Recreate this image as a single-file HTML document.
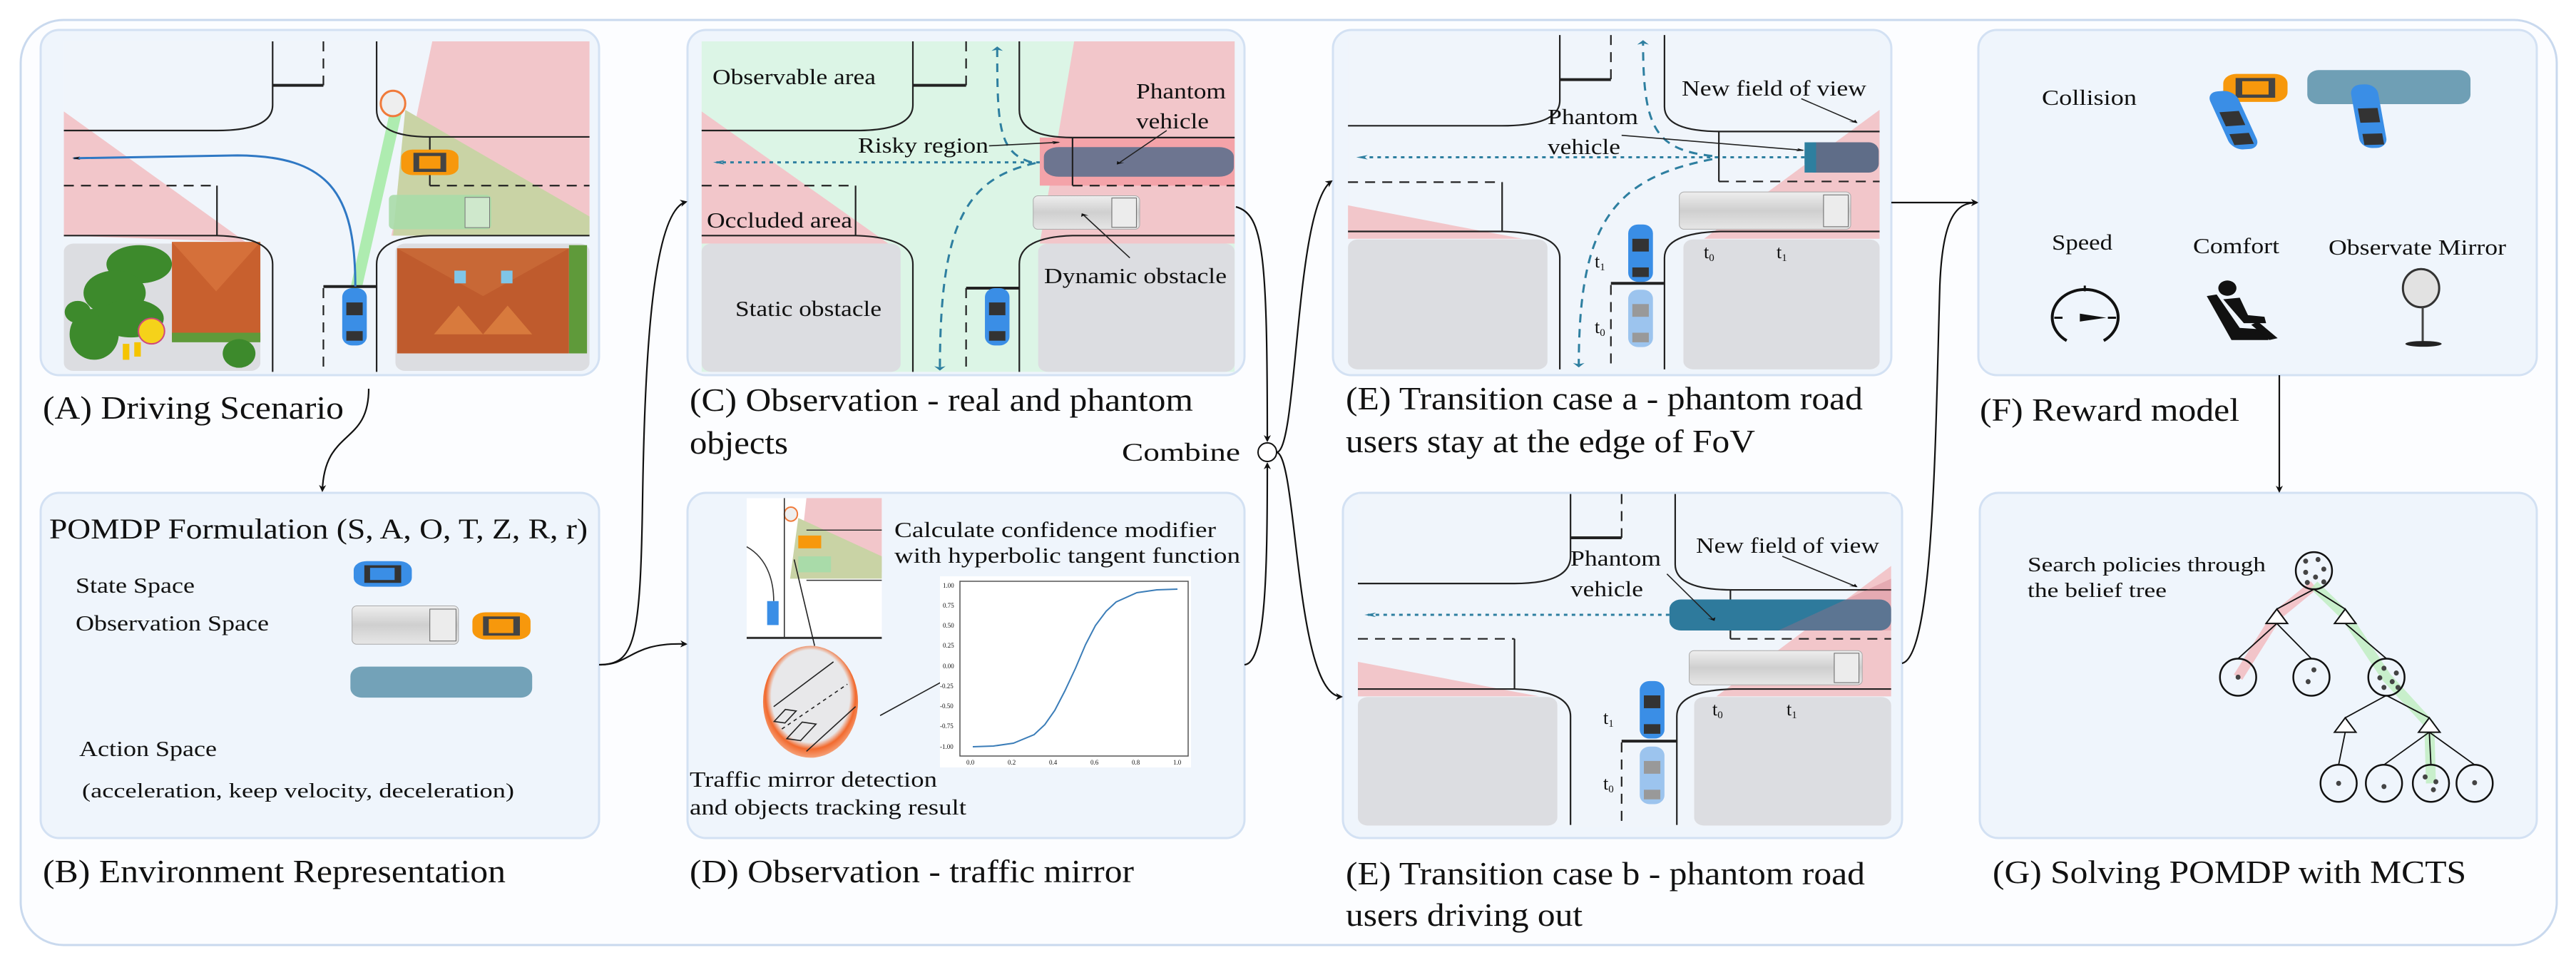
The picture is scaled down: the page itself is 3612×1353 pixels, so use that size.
<!DOCTYPE html>
<html><head><meta charset="utf-8"><style>
html,body{margin:0;padding:0;background:#fff;}
svg{display:block;}
svg *{vector-effect:non-scaling-stroke;}
text{font-family:"Liberation Serif",serif;fill:#111;}
</style></head><body>
<svg width="3612" height="1353" viewBox="0 0 3612 1353" xmlns="http://www.w3.org/2000/svg">
<defs>
<marker id="ah" markerWidth="10" markerHeight="10" refX="8" refY="5" orient="auto" markerUnits="userSpaceOnUse" viewBox="0 0 10 10">
<path d="M0,0 L10,5 L0,10 L3,5 z" fill="#111"/></marker>
<marker id="th" markerWidth="14" markerHeight="14" refX="10" refY="7" orient="auto" markerUnits="userSpaceOnUse" viewBox="0 0 14 14">
<path d="M0,0 L14,7 L0,14 L4,7 z" fill="#2e7fa0"/></marker>
<radialGradient id="mir" cx="0.5" cy="0.45" r="0.55"><stop offset="0.75" stop-color="#e8e8ea"/><stop offset="0.86" stop-color="#f26a2e"/><stop offset="1" stop-color="#f5a27a"/></radialGradient>
<linearGradient id="trk" x1="0" y1="0" x2="0" y2="1"><stop offset="0" stop-color="#eeeeee"/><stop offset="0.5" stop-color="#cfcfcf"/><stop offset="1" stop-color="#e6e6e6"/></linearGradient>
</defs>
<rect x="0" y="0" width="3612" height="1353" fill="#fff"/>
<rect x="29" y="28" width="3556" height="1297" rx="60" fill="#fcfdff" stroke="#c9d9ee" stroke-width="3"/>

<g fill="#eff5fc" stroke="#d3e1f3" stroke-width="3">
<rect x="57" y="42" width="783" height="484" rx="26"/>
<rect x="964" y="42" width="781" height="484" rx="26"/>
<rect x="57" y="691" width="783" height="484" rx="26"/>
<rect x="964" y="691" width="781" height="484" rx="26"/>
<rect x="1869" y="42" width="783" height="484" rx="26"/>
<rect x="2774" y="42" width="783" height="484" rx="26"/>
<rect x="1883" y="691" width="784" height="484" rx="26"/>
<rect x="2776" y="691" width="781" height="484" rx="26"/>
</g>

<g transform="scale(1.148,0.4464)">
 <rect x="78" y="130" width="642" height="1038" fill="#f0f5fb"/>
 <polygon points="528,130 720,130 720,740 478,740" fill="#f2c6ca"/>
 <polygon points="495,345 720,680 720,740 480,740" fill="#c9d3a5"/>
 <polygon points="78,350 78,740 300,760 " fill="#f2c6ca"/>
 <polygon points="478,330 492,340 442,905 428,905" fill="#9eea9e" opacity="0.8"/>
 <rect x="78" y="765" width="240" height="400" rx="12" ry="25" fill="#dcdde1"/>
 <rect x="483" y="765" width="237" height="400" rx="12" ry="25" fill="#dcdde1"/>
 <rect x="210" y="760" width="108" height="310" fill="#c8602e"/>
 <polygon points="210,760 318,760 264,915" fill="#d5703a"/>
 <rect x="210" y="1045" width="108" height="30" fill="#5f9a3a"/>
 <rect x="485" y="780" width="210" height="330" fill="#bf5b2d"/>
 <polygon points="485,780 695,780 590,930" fill="#c86836"/>
 <polygon points="530,1050 560,960 590,1050" fill="#d87a3d"/>
 <polygon points="590,1050 620,960 650,1050" fill="#d87a3d"/>
 <rect x="555" y="850" width="14" height="40" fill="#7fc6e8"/><rect x="612" y="850" width="14" height="40" fill="#7fc6e8"/>
 <rect x="695" y="770" width="22" height="340" fill="#5f9a3a"/>
 <g fill="#3d8a2c"><ellipse cx="170" cy="830" rx="40" ry="60"/><ellipse cx="140" cy="920" rx="38" ry="70"/><ellipse cx="115" cy="1050" rx="30" ry="80"/><ellipse cx="95" cy="980" rx="16" ry="35"/><ellipse cx="292" cy="1110" rx="20" ry="45"/><ellipse cx="160" cy="1000" rx="40" ry="60"/></g>
 <ellipse cx="185" cy="1040" rx="16" ry="40" fill="#f5d21a" stroke="#d04a7a" stroke-width="2"/>
 <rect x="150" y="1080" width="8" height="50" fill="#f5c400"/><rect x="164" y="1075" width="8" height="45" fill="#f5c400"/>
 <g fill="none" stroke="#222" stroke-width="2.2">
  <path d="M333,130 V330 Q333,410 265,410 H78"/>
  <path d="M460,130 V345 Q460,430 525,430 H720"/>
  <path d="M78,740 H265 Q333,745 333,830 V1168"/>
  <path d="M720,740 H525 Q460,745 460,830 V1168"/>
  <path d="M525,430 V583"/><path d="M265,583 V740"/>
 </g>
 <g stroke="#222" stroke-width="4"><line x1="333" y1="268" x2="395" y2="268"/><line x1="395" y1="900" x2="460" y2="900"/></g>
 <g fill="none" stroke="#222" stroke-width="2.2" stroke-dasharray="14 10">
  <path d="M395,130 V268"/><path d="M395,905 V1168"/><path d="M78,583 H265"/><path d="M525,583 H720"/>
 </g>
 <path d="M434,900 C434,600 400,490 290,488 L90,497" fill="none" stroke="#2f78c4" stroke-width="3" marker-end="url(#ah)"/>
 <ellipse cx="480" cy="325" rx="15" ry="40" fill="#eee" stroke="#f07a3a" stroke-width="3"/>
 <rect x="490" y="470" width="70" height="80" rx="14" ry="25" fill="#f7980c"/><rect x="505" y="480" width="40" height="60" fill="#444"/><rect x="512" y="490" width="26" height="40" fill="#f7980c"/>
 <rect x="475" y="612" width="125" height="108" rx="6" ry="14" fill="#a9dba9" opacity="0.9"/><rect x="568" y="620" width="30" height="95" fill="#cfe8cc" stroke="#777"/>
 <rect x="418" y="905" width="30" height="180" rx="12" ry="28" fill="#3a8ee6"/><rect x="423" y="950" width="20" height="40" fill="#333"/><rect x="423" y="1040" width="20" height="30" fill="#333"/>

 <rect x="857" y="130" width="651" height="1038" fill="#dcf5e6"/>
 <polygon points="857,350 857,765 1085,765" fill="#f2c6ca"/>
 <polygon points="1312,130 1508,130 1508,765 1270,765" fill="#f2c6ca"/>
 <rect x="1270" y="432" width="238" height="151" fill="#f4a3a9"/>
 <rect x="1275" y="462" width="232" height="93" rx="18" ry="30" fill="#6d7590"/>
 <rect x="857" y="765" width="243" height="403" rx="12" ry="25" fill="#dcdde1"/>
 <rect x="1268" y="765" width="240" height="403" rx="12" ry="25" fill="#dcdde1"/>
 <g fill="none" stroke="#222" stroke-width="2.2">
  <path d="M1115,130 V330 Q1115,410 1045,410 H857"/>
  <path d="M1245,130 V345 Q1245,432 1310,432 H1508"/>
  <path d="M857,740 H1045 Q1115,745 1115,830 V1168"/>
  <path d="M1508,740 H1310 Q1245,745 1245,830 V1168"/>
  <path d="M1310,432 V583"/><path d="M1045,583 V740"/>
 </g>
 <g stroke="#222" stroke-width="4"><line x1="1115" y1="268" x2="1180" y2="268"/><line x1="1180" y1="905" x2="1245" y2="905"/></g>
 <g fill="none" stroke="#222" stroke-width="2.2" stroke-dasharray="14 10">
  <path d="M1180,130 V268"/><path d="M1180,905 V1168"/><path d="M857,583 H1045"/><path d="M1310,583 H1508"/>
 </g>
 <g fill="none" stroke="#2e7fa0" stroke-width="3">
  <path d="M1270,510 H875" stroke-dasharray="5 6" marker-end="url(#th)"/>
  <path d="M1260,510 C1220,480 1218,400 1218,150" stroke-dasharray="12 9" marker-end="url(#th)"/>
  <path d="M1265,512 C1180,560 1148,700 1148,1160" stroke-dasharray="12 9" marker-end="url(#th)"/>
 </g>
 <rect x="1262" y="615" width="130" height="105" rx="6" ry="14" fill="url(#trk)" stroke="#aaa"/><rect x="1358" y="622" width="30" height="92" fill="#ececec" stroke="#666"/>
 <rect x="1203" y="905" width="30" height="180" rx="12" ry="28" fill="#3a8ee6"/><rect x="1208" y="950" width="20" height="40" fill="#333"/><rect x="1208" y="1040" width="20" height="30" fill="#333"/>
 <g stroke="#222" stroke-width="1.6" fill="none">
  <path d="M1208,458 L1293,447" marker-end="url(#ah)"/>
  <path d="M1425,410 L1365,515" marker-end="url(#ah)"/>
  <path d="M1380,810 L1322,672" marker-end="url(#ah)"/>
 </g>
</g>

<g transform="translate(0,650) scale(1.148,0.4483)">
 <rect x="432" y="305" width="71" height="80" rx="16" ry="28" fill="#3a8ee6"/><rect x="445" y="318" width="45" height="55" fill="#333"/><rect x="452" y="326" width="30" height="38" fill="#3a8ee6"/>
 <rect x="430" y="445" width="130" height="120" rx="6" ry="14" fill="url(#trk)" stroke="#aaa"/><rect x="525" y="455" width="32" height="100" fill="#ececec" stroke="#666"/>
 <rect x="577" y="465" width="71" height="85" rx="16" ry="28" fill="#f7980c"/><rect x="590" y="478" width="45" height="60" fill="#444"/><rect x="597" y="486" width="30" height="44" fill="#f7980c"/>
 <rect x="428" y="635" width="222" height="97" rx="14" ry="30" fill="#73a2b8"/>
 <rect x="912" y="108" width="165" height="440" fill="#fff"/>
 <polygon points="985,108 1077,108 1077,340 975,340" fill="#f2c6ca"/>
 <polygon points="975,170 1077,290 1077,360 965,360" fill="#c9d3a5"/>
 <rect x="975" y="290" width="40" height="50" fill="#a9dba9"/>
 <rect x="975" y="225" width="28" height="40" fill="#f7980c"/>
 <ellipse cx="966" cy="158" rx="8" ry="22" fill="#eee" stroke="#f07a3a" stroke-width="2"/>
 <g fill="none" stroke="#333" stroke-width="1.6"><path d="M958,108 V545"/><path d="M985,208 H1077"/><path d="M985,365 H1077"/><path d="M912,545 H1077" stroke-width="3"/><path d="M912,260 C940,300 945,380 945,430"/></g>
 <rect x="937" y="430" width="14" height="75" fill="#3a8ee6"/>
 <ellipse cx="990" cy="745" rx="58" ry="175" fill="url(#mir)"/>
 <g fill="none" stroke="#222" stroke-width="1.6"><path d="M945,760 L1018,620"/><path d="M985,900 L1045,760"/><path d="M955,830 L1035,690" stroke-dasharray="5 5"/><rect x="952" y="770" width="14" height="40" transform="rotate(20 959 790)"/><rect x="970" y="810" width="18" height="55" transform="rotate(20 979 837)"/></g>
 <path d="M970,300 L995,570" stroke="#222" stroke-width="1.6" fill="none"/>
 <path d="M1075,788 L1170,655" stroke="#222" stroke-width="1.6" fill="none" marker-end="url(#ah)"/>
</g>
<rect x="1318" y="808" width="352" height="268" fill="#fff"/>
<rect x="1346" y="815" width="320" height="245" fill="none" stroke="#555" stroke-width="1.5"/>
<polyline fill="none" stroke="#3b7db8" stroke-width="2" points="1364,1047 1393,1046 1421,1042 1450,1030 1465,1016 1479,996 1493,969 1508,937 1522,904 1536,877 1551,857 1565,844 1594,831 1622,827 1651,826"/>
<g font-size="9" fill="#333">
<text x="1322" y="824">1.00</text><text x="1322" y="852">0.75</text><text x="1322" y="880">0.50</text><text x="1322" y="908">0.25</text><text x="1322" y="937">0.00</text><text x="1318" y="965">-0.25</text><text x="1318" y="993">-0.50</text><text x="1318" y="1021">-0.75</text><text x="1318" y="1050">-1.00</text>
<text x="1355" y="1072">0.0</text><text x="1413" y="1072">0.2</text><text x="1471" y="1072">0.4</text><text x="1529" y="1072">0.6</text><text x="1587" y="1072">0.8</text><text x="1645" y="1072">1.0</text>
</g>

<g transform="translate(1800,0) scale(1.1556,0.4464)">
 <rect x="78" y="110" width="645" height="1050" fill="#f0f5fb"/>
 <polygon points="78,645 78,750 290,750" fill="#f2c6ca"/>
 <polygon points="723,345 723,750 510,750" fill="#f2c6ca"/>
 <rect x="78" y="752" width="242" height="408" rx="12" ry="25" fill="#dcdde1"/>
 <rect x="485" y="752" width="238" height="408" rx="12" ry="25" fill="#dcdde1"/>
 <g fill="none" stroke="#222" stroke-width="2.2">
  <path d="M335,110 V315 Q335,395 265,395 H78"/>
  <path d="M462,110 V335 Q462,413 530,413 H723"/>
  <path d="M78,727 H265 Q335,732 335,810 V1160"/>
  <path d="M723,727 H530 Q462,732 462,810 V1160"/>
  <path d="M528,413 V570"/><path d="M265,572 V727"/>
 </g>
 <g stroke="#222" stroke-width="4"><line x1="335" y1="250" x2="397" y2="250"/><line x1="397" y1="890" x2="462" y2="890"/></g>
 <g fill="none" stroke="#222" stroke-width="2.2" stroke-dasharray="14 10">
  <path d="M397,110 V250"/><path d="M397,895 V1160"/><path d="M78,572 H265"/><path d="M528,570 H723"/>
 </g>
 <rect x="632" y="447" width="90" height="95" rx="12" ry="28" fill="#5f6d88"/>
 <rect x="632" y="447" width="14" height="95" fill="#2e7f9f"/>
 <g fill="none" stroke="#2e7fa0" stroke-width="3">
  <path d="M632,494 H92" stroke-dasharray="5 6" marker-end="url(#th)"/>
  <path d="M520,490 C450,470 436,400 436,130" stroke-dasharray="12 9" marker-end="url(#th)"/>
  <path d="M520,500 C400,560 358,700 358,1150" stroke-dasharray="12 9" marker-end="url(#th)"/>
 </g>
 <rect x="480" y="603" width="208" height="117" rx="6" ry="14" fill="url(#trk)" stroke="#aaa"/><rect x="655" y="612" width="30" height="100" fill="#ececec" stroke="#666"/>
 <rect x="418" y="705" width="30" height="180" rx="12" ry="28" fill="#3a8ee6"/><rect x="423" y="750" width="20" height="40" fill="#333"/><rect x="423" y="840" width="20" height="30" fill="#333"/>
 <rect x="418" y="910" width="30" height="180" rx="12" ry="28" fill="#9cc4ee"/><rect x="423" y="955" width="20" height="40" fill="#999"/><rect x="423" y="1045" width="20" height="30" fill="#999"/>
 <g stroke="#222" stroke-width="1.6" fill="none">
  <path d="M628,310 L695,385" marker-end="url(#ah)"/>
  <path d="M410,425 L630,472" marker-end="url(#ah)"/>
 </g>
 <rect x="1140" y="232" width="78" height="88" rx="16" ry="30" fill="#f7980c"/><rect x="1155" y="245" width="48" height="62" fill="#444"/><rect x="1163" y="255" width="32" height="42" fill="#f7980c"/>
 <rect x="1135" y="285" width="35" height="185" rx="14" ry="30" fill="#3a8ee6" transform="rotate(-10 1152 378)"/>
 <rect x="1242" y="220" width="198" height="107" rx="14" ry="30" fill="#6f9fb5"/>
 <rect x="1300" y="265" width="33" height="200" rx="14" ry="30" fill="#3a8ee6" transform="rotate(-4 1316 365)"/>
 <rect x="1305" y="340" width="24" height="45" fill="#333" transform="rotate(-4 1316 365)"/><rect x="1305" y="420" width="24" height="35" fill="#333" transform="rotate(-4 1316 365)"/>
 <rect x="1140" y="350" width="24" height="45" fill="#333" transform="rotate(-10 1152 378)"/><rect x="1140" y="420" width="24" height="35" fill="#333" transform="rotate(-10 1152 378)"/>
 <path d="M950,1070 A40,88 0 1 1 995,1070" fill="none" stroke="#111" stroke-width="4"/>
 <polygon points="966,985 998,998 966,1010" fill="#111"/>
 <g stroke="#111" stroke-width="3"><line x1="972" y1="897" x2="972" y2="915"/><line x1="935" y1="998" x2="945" y2="998"/><line x1="1000" y1="998" x2="1010" y2="998"/></g>
 <ellipse cx="1145" cy="905" rx="11" ry="24" fill="#111"/>
 <path d="M1120,930 L1132,925 L1160,1030 L1190,1035 L1195,1068 L1150,1068 z" fill="#111"/>
 <path d="M1140,940 L1160,935 L1170,990 L1190,995 L1192,1015 L1165,1015 z" fill="#111"/>
 <path d="M1182,1010 L1206,1062 L1196,1068 L1174,1020 z" fill="#111"/>
 <ellipse cx="1380" cy="905" rx="22" ry="60" fill="#e2e2e2" stroke="#333" stroke-width="3"/>
 <line x1="1382" y1="965" x2="1382" y2="1078" stroke="#444" stroke-width="3"/>
 <ellipse cx="1383" cy="1080" rx="22" ry="9" fill="#222"/>
</g>

<g transform="translate(1800,650) scale(1.1556,0.4483)">
 <rect x="90" y="95" width="647" height="1040" fill="#f0f5fb"/>
 <polygon points="90,620 90,728 310,728" fill="#f2c6ca"/>
 <polygon points="737,320 737,728 525,728" fill="#f2c6ca"/>
 <rect x="90" y="730" width="242" height="402" rx="12" ry="25" fill="#dcdde1"/>
 <rect x="498" y="730" width="239" height="402" rx="12" ry="25" fill="#dcdde1"/>
 <g fill="none" stroke="#222" stroke-width="2.2">
  <path d="M348,95 V290 Q348,375 280,375 H90"/>
  <path d="M475,95 V315 Q475,395 545,395 H737"/>
  <path d="M90,705 H280 Q348,710 348,790 V1130"/>
  <path d="M737,705 H545 Q477,710 477,790 V1130"/>
  <path d="M542,395 V548"/><path d="M280,548 V705"/>
 </g>
 <g stroke="#222" stroke-width="4"><line x1="348" y1="232" x2="410" y2="232"/><line x1="410" y1="868" x2="477" y2="868"/></g>
 <g fill="none" stroke="#222" stroke-width="2.2" stroke-dasharray="14 10">
  <path d="M410,95 V232"/><path d="M410,872 V1130"/><path d="M90,548 H280"/><path d="M542,548 H737"/>
 </g>
 <rect x="468" y="425" width="269" height="97" rx="14" ry="30" fill="#2e7a9c"/>
 <polygon points="600,522 737,360 737,522" fill="#c86a7a" opacity="0.3"/>
 <path d="M468,473 H102" fill="none" stroke="#2e7fa0" stroke-width="3" stroke-dasharray="5 6" marker-end="url(#th)"/>
 <rect x="492" y="585" width="210" height="107" rx="6" ry="14" fill="url(#trk)" stroke="#aaa"/><rect x="668" y="593" width="30" height="92" fill="#ececec" stroke="#666"/>
 <rect x="432" y="680" width="30" height="180" rx="12" ry="28" fill="#3a8ee6"/><rect x="437" y="725" width="20" height="40" fill="#333"/><rect x="437" y="815" width="20" height="30" fill="#333"/>
 <rect x="432" y="885" width="30" height="180" rx="12" ry="28" fill="#9cc4ee"/><rect x="437" y="930" width="20" height="40" fill="#999"/><rect x="437" y="1020" width="20" height="30" fill="#999"/>
 <g stroke="#222" stroke-width="1.6" fill="none">
  <path d="M605,290 L695,385" marker-end="url(#ah)"/>
  <path d="M465,345 L522,490" marker-end="url(#ah)"/>
 </g>
 <path d="M1250,380 L1205,475 L1158,668" stroke="#f3b8bd" stroke-width="14" fill="none" opacity="0.8"/>
 <path d="M1250,380 L1288,475 L1338,668 L1390,815 L1392,1000" stroke="#bfeebf" stroke-width="14" fill="none" opacity="0.8"/>
 <g stroke="#111" stroke-width="1.8" fill="none">
  <path d="M1250,393 L1205,455"/><path d="M1250,393 L1288,455"/>
  <path d="M1205,500 L1158,610"/><path d="M1205,500 L1247,610"/><path d="M1288,500 L1338,610"/>
  <path d="M1338,725 L1288,795"/><path d="M1338,725 L1390,795"/>
  <path d="M1288,840 L1280,942"/><path d="M1390,840 L1335,942"/><path d="M1390,840 L1392,942"/><path d="M1390,840 L1445,942"/>
 </g>
 <g fill="#fff" stroke="#111" stroke-width="2">
  <polygon points="1205,455 1192,500 1218,500"/><polygon points="1288,455 1275,500 1301,500"/>
  <polygon points="1288,795 1275,840 1301,840"/><polygon points="1390,795 1377,840 1403,840"/>
 </g>
 <g fill="none" stroke="#111" stroke-width="2.5">
  <ellipse cx="1250" cy="335" rx="22" ry="58"/>
  <ellipse cx="1158" cy="668" rx="22" ry="58"/><ellipse cx="1247" cy="668" rx="22" ry="58"/><ellipse cx="1338" cy="668" rx="22" ry="58"/>
  <ellipse cx="1280" cy="1000" rx="22" ry="58"/><ellipse cx="1335" cy="1000" rx="22" ry="58"/><ellipse cx="1392" cy="1000" rx="22" ry="58"/><ellipse cx="1445" cy="1000" rx="22" ry="58"/>
 </g>
 <g fill="#444">
  <ellipse cx="1240" cy="305" rx="3" ry="8"/><ellipse cx="1255" cy="300" rx="3" ry="8"/><ellipse cx="1262" cy="330" rx="3" ry="8"/><ellipse cx="1240" cy="340" rx="3" ry="8"/><ellipse cx="1252" cy="355" rx="3" ry="8"/><ellipse cx="1262" cy="370" rx="3" ry="8"/><ellipse cx="1242" cy="372" rx="3" ry="8"/>
  <ellipse cx="1158" cy="668" rx="3" ry="8"/><ellipse cx="1250" cy="645" rx="3" ry="8"/><ellipse cx="1243" cy="682" rx="3" ry="8"/>
  <ellipse cx="1335" cy="640" rx="3" ry="8"/><ellipse cx="1350" cy="655" rx="3" ry="8"/><ellipse cx="1330" cy="670" rx="3" ry="8"/><ellipse cx="1345" cy="682" rx="3" ry="8"/><ellipse cx="1352" cy="700" rx="3" ry="8"/><ellipse cx="1335" cy="700" rx="3" ry="8"/>
  <ellipse cx="1280" cy="1000" rx="3" ry="8"/><ellipse cx="1335" cy="1010" rx="3" ry="8"/><ellipse cx="1385" cy="980" rx="3" ry="8"/><ellipse cx="1398" cy="995" rx="3" ry="8"/><ellipse cx="1395" cy="1020" rx="3" ry="8"/><ellipse cx="1445" cy="998" rx="3" ry="8"/>
 </g>
</g>

<g fill="none" stroke="#111" stroke-width="2.2">
 <path d="M517,545 C517,625 455,600 452,688" marker-end="url(#ah)"/>
 <path d="M840,932 C890,932 898,900 901,700 S915,295 962,283" marker-end="url(#ah)"/>
 <path d="M842,932 C885,932 885,900 962,903" marker-end="url(#ah)"/>
 <path d="M1733,290 C1772,300 1777,360 1777,618" marker-end="url(#ah)"/>
 <path d="M1745,932 C1775,930 1777,800 1777,650" marker-end="url(#ah)"/>
 <path d="M1790,634 C1820,634 1815,290 1867,254" marker-end="url(#ah)"/>
 <path d="M1790,634 C1820,640 1815,975 1881,977" marker-end="url(#ah)"/>
 <path d="M2652,284 L2772,284" marker-end="url(#ah)"/>
 <path d="M2667,930 C2712,920 2714,600 2720,400 C2724,300 2745,284 2772,284" marker-end="url(#ah)"/>
 <path d="M3196,526 L3196,689" marker-end="url(#ah)"/>
</g>
<circle cx="1777" cy="634" r="13" fill="#fff" stroke="#111" stroke-width="2"/>

<g font-size="46">
 <text x="60" y="587" textLength="422" lengthAdjust="spacingAndGlyphs">(A) Driving Scenario</text>
 <text x="967" y="576" textLength="706" lengthAdjust="spacingAndGlyphs">(C) Observation - real and phantom</text>
 <text x="967" y="636" textLength="138" lengthAdjust="spacingAndGlyphs">objects</text>
 <text x="1887" y="574" textLength="725" lengthAdjust="spacingAndGlyphs">(E) Transition case a - phantom road</text>
 <text x="1887" y="634" textLength="574" lengthAdjust="spacingAndGlyphs">users stay at the edge of FoV</text>
 <text x="2776" y="590" textLength="364" lengthAdjust="spacingAndGlyphs">(F) Reward model</text>
 <text x="60" y="1237" textLength="649" lengthAdjust="spacingAndGlyphs">(B) Environment Representation</text>
 <text x="967" y="1237" textLength="623" lengthAdjust="spacingAndGlyphs">(D) Observation - traffic mirror</text>
 <text x="1887" y="1240" textLength="728" lengthAdjust="spacingAndGlyphs">(E) Transition case b - phantom road</text>
 <text x="1887" y="1298" textLength="332" lengthAdjust="spacingAndGlyphs">users driving out</text>
 <text x="2794" y="1238" textLength="664" lengthAdjust="spacingAndGlyphs">(G) Solving POMDP with MCTS</text>
</g>
<text x="1573" y="646" font-size="36" textLength="166" lengthAdjust="spacingAndGlyphs">Combine</text>
<g font-size="31">
 <text x="999" y="118" textLength="229" lengthAdjust="spacingAndGlyphs">Observable area</text>
 <text x="1593" y="138" textLength="126" lengthAdjust="spacingAndGlyphs">Phantom</text>
 <text x="1593" y="180" textLength="102" lengthAdjust="spacingAndGlyphs">vehicle</text>
 <text x="1203" y="214" textLength="183" lengthAdjust="spacingAndGlyphs">Risky region</text>
 <text x="991" y="319" textLength="204" lengthAdjust="spacingAndGlyphs">Occluded area</text>
 <text x="1464" y="397" textLength="256" lengthAdjust="spacingAndGlyphs">Dynamic obstacle</text>
 <text x="1031" y="443" textLength="205" lengthAdjust="spacingAndGlyphs">Static obstacle</text>
 <text x="69" y="755" font-size="40" textLength="755" lengthAdjust="spacingAndGlyphs">POMDP Formulation (S, A, O, T, Z, R, r)</text>
 <text x="106" y="831" textLength="167" lengthAdjust="spacingAndGlyphs">State Space</text>
 <text x="106" y="884" textLength="271" lengthAdjust="spacingAndGlyphs">Observation Space</text>
 <text x="111" y="1060" textLength="193" lengthAdjust="spacingAndGlyphs">Action Space</text>
 <text x="115" y="1118" font-size="29" textLength="606" lengthAdjust="spacingAndGlyphs">(acceleration, keep velocity, deceleration)</text>
 <text x="1254" y="753" textLength="451" lengthAdjust="spacingAndGlyphs">Calculate confidence modifier</text>
 <text x="1254" y="789" textLength="485" lengthAdjust="spacingAndGlyphs">with hyperbolic tangent function</text>
 <text x="967" y="1103" textLength="347" lengthAdjust="spacingAndGlyphs">Traffic mirror detection</text>
 <text x="967" y="1142" textLength="388" lengthAdjust="spacingAndGlyphs">and objects tracking result</text>
 <text x="2358" y="134" textLength="259" lengthAdjust="spacingAndGlyphs">New field of view</text>
 <text x="2170" y="174" textLength="127" lengthAdjust="spacingAndGlyphs">Phantom</text>
 <text x="2170" y="216" textLength="102" lengthAdjust="spacingAndGlyphs">vehicle</text>
 <text x="2378" y="775" textLength="257" lengthAdjust="spacingAndGlyphs">New field of view</text>
 <text x="2202" y="793" textLength="127" lengthAdjust="spacingAndGlyphs">Phantom</text>
 <text x="2202" y="836" textLength="102" lengthAdjust="spacingAndGlyphs">vehicle</text>
 <text x="2863" y="147" textLength="133" lengthAdjust="spacingAndGlyphs">Collision</text>
 <text x="2877" y="350" textLength="85" lengthAdjust="spacingAndGlyphs">Speed</text>
 <text x="3075" y="355" textLength="121" lengthAdjust="spacingAndGlyphs">Comfort</text>
 <text x="3265" y="357" textLength="249" lengthAdjust="spacingAndGlyphs">Observate Mirror</text>
 <text x="2843" y="801" font-size="28" textLength="334" lengthAdjust="spacingAndGlyphs">Search policies through</text>
 <text x="2843" y="837" font-size="28" textLength="195" lengthAdjust="spacingAndGlyphs">the belief tree</text>
</g>
<g font-size="26">
 <text x="2236" y="375">t<tspan font-size="15" dy="4">1</tspan></text>
 <text x="2236" y="467">t<tspan font-size="15" dy="4">0</tspan></text>
 <text x="2389" y="362">t<tspan font-size="15" dy="4">0</tspan></text>
 <text x="2491" y="362">t<tspan font-size="15" dy="4">1</tspan></text>
 <text x="2248" y="1015">t<tspan font-size="15" dy="4">1</tspan></text>
 <text x="2248" y="1107">t<tspan font-size="15" dy="4">0</tspan></text>
 <text x="2401" y="1003">t<tspan font-size="15" dy="4">0</tspan></text>
 <text x="2505" y="1003">t<tspan font-size="15" dy="4">1</tspan></text>
</g>
</svg>
</body></html>
